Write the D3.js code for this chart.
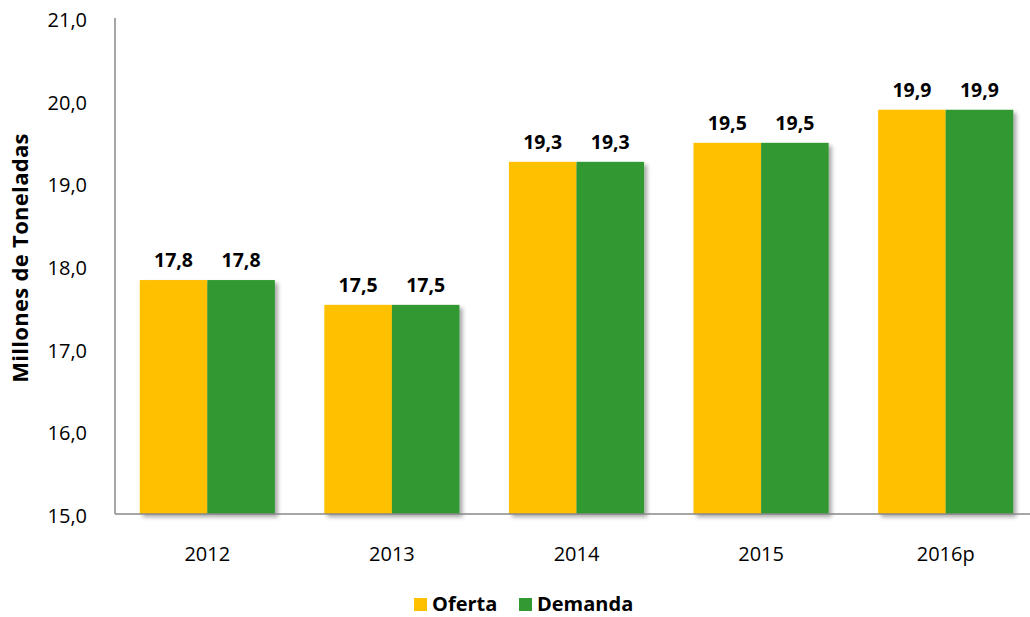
<!DOCTYPE html>
<html lang="es">
<head>
<meta charset="UTF-8">
<title>Oferta y Demanda</title>
<script src="https://d3js.org/d3.v7.min.js"></script>
<style>
    body { margin: 0; background: #fff; font-family: "Open Sans", Arial, sans-serif; overflow: hidden; }
    svg text { fill: #000; }
</style>
</head>
<body>
<svg id="chart" width="1030" height="617"></svg>
<script>
    // data
    const years = ["2012", "2013", "2014", "2015", "2016p"];
    const oferta = [17.83, 17.53, 19.26, 19.49, 19.89];
    const demanda = [17.83, 17.53, 19.26, 19.49, 19.89];
    const series = ["Oferta", "Demanda"];
    const colors = ["#FFC000", "#339933"];
    const yTicks = [15, 16, 17, 18, 19, 20, 21];

    const svg = d3.select("#chart");
    const plotLeft = 115, plotRight = 1038, plotTop = 18, plotBottom = 514;

    const x = d3.scaleBand().domain(years).range([plotLeft, plotRight])
        .paddingInner(0.268).paddingOuter(0.134);
    const xs = d3.scaleBand().domain(series).range([0, x.bandwidth()]);
    const y = d3.scaleLinear().domain([15, 21]).range([plotBottom, plotTop]);

    const fmt = v => d3.format(".1f")(v).replace(".", ",");

    // drop shadow like the spreadsheet bars
    const defs = svg.append("defs");
    const f = defs.append("filter").attr("id", "shadow")
        .attr("x", "-20%").attr("y", "-20%").attr("width", "150%").attr("height", "150%");
    f.append("feDropShadow").attr("dx", 3).attr("dy", 3).attr("stdDeviation", 2)
        .attr("flood-color", "#000").attr("flood-opacity", 0.35);

    const rows = years.map((yr, i) => ({ year: yr, vals: [oferta[i], demanda[i]] }));

    const groups = svg.append("g").selectAll("g")
        .data(rows).enter().append("g")
        .attr("transform", d => `translate(${x(d.year)},0)`);

    groups.append("g").attr("filter", "url(#shadow)")
        .selectAll("rect")
        .data(d => d.vals.map((v, j) => ({ s: series[j], v: v, c: colors[j] })))
        .enter().append("rect")
        .attr("x", d => xs(d.s))
        .attr("y", d => y(d.v))
        .attr("width", xs.bandwidth())
        .attr("height", d => y(15) - y(d.v))
        .attr("fill", d => d.c);

    groups.selectAll("text.val")
        .data(d => d.vals.map((v, j) => ({ s: series[j], v: v })))
        .enter().append("text")
        .attr("class", "val")
        .attr("x", d => xs(d.s) + xs.bandwidth() / 2)
        .attr("y", d => y(d.v) - 13)
        .attr("text-anchor", "middle")
        .style("font-size", "19.5px")
        .style("font-weight", "bold")
        .text(d => fmt(d.v));

    // axes lines
    svg.append("line").attr("x1", plotLeft).attr("x2", plotLeft).attr("y1", plotTop).attr("y2", plotBottom)
        .attr("stroke", "#898989").attr("stroke-width", 1.5);
    svg.append("line").attr("x1", plotLeft).attr("x2", 1030).attr("y1", plotBottom).attr("y2", plotBottom)
        .attr("stroke", "#898989").attr("stroke-width", 1.5);

    // y tick labels
    svg.append("g").selectAll("text")
        .data(yTicks).enter().append("text")
        .attr("x", 87)
        .attr("y", d => y(d))
        .attr("dy", "0.45em")
        .attr("text-anchor", "end")
        .style("font-size", "20px")
        .text(d => fmt(d));

    // x labels
    svg.append("g").selectAll("text")
        .data(years).enter().append("text")
        .attr("x", d => x(d) + x.bandwidth() / 2)
        .attr("y", 561)
        .attr("text-anchor", "middle")
        .style("font-size", "20px")
        .text(d => d);

    // y title
    svg.append("text")
        .attr("transform", "translate(28,258) rotate(-90)")
        .attr("text-anchor", "middle")
        .style("font-size", "22px")
        .style("font-weight", "bold")
        .style("letter-spacing", "0.3px")
        .text("Millones de Toneladas");

    // legend
    const legendX = [414, 519];
    const leg = svg.append("g").selectAll("g")
        .data(series).enter().append("g")
        .attr("transform", (d, i) => `translate(${legendX[i]},598)`);
    leg.append("rect").attr("width", 13).attr("height", 13).attr("fill", (d, i) => colors[i]);
    leg.append("text").attr("x", 18).attr("y", 13)
        .style("font-size", "20px").style("font-weight", "bold")
        .text(d => d);
</script>
</body>
</html>
